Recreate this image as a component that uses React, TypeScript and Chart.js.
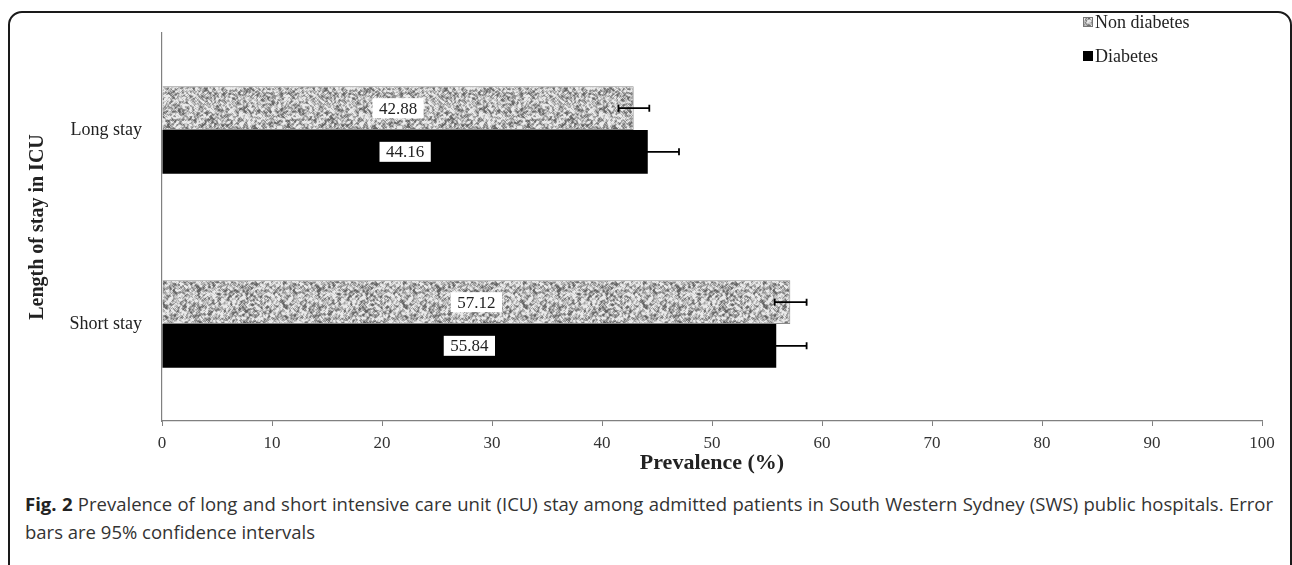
import React, { useEffect, useRef } from "react";
import { Chart, registerables } from "chart.js";

Chart.register(...registerables);

// ---- data ----
const categories = ["Long stay", "Short stay"];
const seriesNames = ["Non diabetes", "Diabetes"];
const nonDiabetes = [42.88, 57.12];
const diabetes = [44.16, 55.84];
const nonDiabetesLow = [41.5, 55.7];
const nonDiabetesHigh = [44.3, 58.6];
const diabetesLow = [41.4, 53.1];
const diabetesHigh = [47.0, 58.6];
const xMin = 0;
const xMax = 100;
const xStep = 10;
const xTitle = "Prevalence (%)";
const yTitle = "Length of stay in ICU";

const SERIF = "'Liberation Serif', 'Times New Roman', serif";

function makeNoisePattern(): CanvasPattern | string {
  const size = 120;
  const c = document.createElement("canvas");
  c.width = size;
  c.height = size;
  const g = c.getContext("2d");
  if (!g) return "#a8a8a8";
  let seed = 987654321;
  const rnd = () => {
    seed = (Math.imul(seed, 1103515245) + 12345) >>> 0;
    return (seed >>> 8) / 16777216;
  };
  const raw = new Float32Array(size * size);
  for (let i = 0; i < raw.length; i++) raw[i] = rnd();
  const img = g.createImageData(size, size);
  for (let y = 0; y < size; y++) {
    for (let x = 0; x < size; x++) {
      let s = 0;
      for (let dy = -1; dy <= 1; dy++) {
        for (let dx = -1; dx <= 1; dx++) {
          const xx = (x + dx + size) % size;
          const yy = (y + dy + size) % size;
          s += raw[yy * size + xx];
        }
      }
      const v = 0.75 * (s / 9) + 0.25 * raw[y * size + x];
      let gray = 184 + (v - 0.5) * 360;
      gray = Math.max(100, Math.min(235, gray));
      const o = (y * size + x) * 4;
      img.data[o] = gray;
      img.data[o + 1] = gray;
      img.data[o + 2] = gray;
      img.data[o + 3] = 255;
    }
  }
  g.putImageData(img, 0, 0);
  const main = document.createElement("canvas").getContext("2d");
  const p = main ? main.createPattern(c, "repeat") : null;
  return p || "#a8a8a8";
}

export default function App() {
  const canvasRef = useRef<HTMLCanvasElement | null>(null);

  useEffect(() => {
    const canvas = canvasRef.current;
    if (!canvas) return;
    const pattern = makeNoisePattern();
    const lows = [nonDiabetesLow, diabetesLow];
    const highs = [nonDiabetesHigh, diabetesHigh];

    const errorBars = {
      id: "errorBars",
      afterDatasetsDraw(chart: any) {
        const ctx = chart.ctx;
        const xs = chart.scales.x;
        ctx.save();
        ctx.strokeStyle = "#000";
        ctx.lineWidth = 1.8;
        chart.data.datasets.forEach((_ds: any, di: number) => {
          const meta = chart.getDatasetMeta(di);
          meta.data.forEach((bar: any, i: number) => {
            const y = bar.y;
            const x1 = xs.getPixelForValue(lows[di][i]);
            const x2 = xs.getPixelForValue(highs[di][i]);
            ctx.beginPath();
            ctx.moveTo(x1, y);
            ctx.lineTo(x2, y);
            ctx.moveTo(x1, y - 3.5);
            ctx.lineTo(x1, y + 3.5);
            ctx.moveTo(x2, y - 3.5);
            ctx.lineTo(x2, y + 3.5);
            ctx.stroke();
          });
        });
        ctx.restore();
      },
    };

    const dataLabels = {
      id: "dataLabels",
      afterDatasetsDraw(chart: any) {
        const ctx = chart.ctx;
        ctx.save();
        ctx.font = `17px ${SERIF}`;
        ctx.textAlign = "center";
        ctx.textBaseline = "middle";
        chart.data.datasets.forEach((ds: any, di: number) => {
          const meta = chart.getDatasetMeta(di);
          meta.data.forEach((bar: any, i: number) => {
            const text = ds.data[i].toFixed(2);
            const cx = (bar.base + bar.x) / 2;
            const cy = bar.y;
            const w = ctx.measureText(text).width + 13;
            const h = 20;
            ctx.fillStyle = "#ffffff";
            ctx.fillRect(cx - w / 2, cy - h / 2, w, h);
            ctx.fillStyle = "#222";
            ctx.fillText(text, cx, cy + 1);
          });
        });
        ctx.restore();
      },
    };

    const legendPlugin = {
      id: "customLegend",
      afterDraw(chart: any) {
        const ctx = chart.ctx;
        ctx.save();
        const x0 = 1083;
        const ys = [22, 56];
        ctx.font = `18px ${SERIF}`;
        ctx.textAlign = "left";
        ctx.textBaseline = "middle";
        chart.data.datasets.forEach((ds: any, di: number) => {
          const y = ys[di];
          const s = 10;
          ctx.fillStyle = ds.backgroundColor;
          ctx.fillRect(x0, y - s / 2, s, s);
          ctx.strokeStyle = di === 0 ? "#777" : "#000";
          ctx.lineWidth = 1;
          ctx.strokeRect(x0 + 0.5, y - s / 2 + 0.5, s - 1, s - 1);
          ctx.fillStyle = "#222";
          ctx.fillText(ds.label, x0 + s + 2, y + 1);
        });
        ctx.restore();
      },
    };

    const chart = new Chart(canvas, {
      type: "bar",
      data: {
        labels: categories,
        datasets: [
          {
            label: seriesNames[0],
            data: nonDiabetes,
            backgroundColor: pattern as any,
            borderColor: "#8a8a8a",
            borderWidth: 1,
            categoryPercentage: 0.45,
            barPercentage: 1.0,
          },
          {
            label: seriesNames[1],
            data: diabetes,
            backgroundColor: "#000000",
            borderColor: "#000000",
            borderWidth: 0,
            categoryPercentage: 0.45,
            barPercentage: 1.0,
          },
        ],
      },
      options: {
        indexAxis: "y",
        animation: false,
        responsive: false,
        maintainAspectRatio: false,
        layout: { padding: { left: 0, right: 30, top: 33, bottom: 0 } },
        plugins: {
          legend: { display: false },
          tooltip: { enabled: false },
          title: { display: false },
        },
        scales: {
          x: {
            type: "linear",
            min: xMin,
            max: xMax,
            ticks: {
              stepSize: xStep,
              color: "#333",
              padding: 7,
              font: { family: SERIF, size: 17 },
            },
            grid: {
              display: true,
              drawOnChartArea: false,
              drawTicks: true,
              tickLength: 5,
              color: "#808080",
            },
            border: { display: true, color: "#808080", width: 1.2 },
            title: {
              display: true,
              text: xTitle,
              color: "#222",
              font: { family: SERIF, size: 22, weight: "bold" },
              padding: { top: 0, bottom: 13 },
            },
            afterFit(scale: any) {
              scale.height = 69;
            },
          },
          y: {
            type: "category",
            ticks: {
              color: "#222",
              padding: 12,
              font: { family: SERIF, size: 18 },
            },
            grid: { display: false },
            border: { display: true, color: "#808080", width: 1.2 },
            title: {
              display: true,
              text: yTitle,
              color: "#222",
              font: { family: SERIF, size: 20, weight: "bold" },
              padding: { top: 26, bottom: 0 },
            },
            afterFit(scale: any) {
              scale.width = 162;
            },
          },
        },
      },
      plugins: [errorBars, dataLabels, legendPlugin],
    });

    return () => {
      chart.destroy();
    };
  }, []);

  return (
    <div
      style={{
        position: "absolute",
        left: 0,
        top: 0,
        width: 1292,
        height: 565,
        overflow: "hidden",
        background: "#fff",
      }}
    >
      <div
        style={{
          position: "absolute",
          left: 8,
          top: 11,
          width: 1284,
          height: 620,
          boxSizing: "border-box",
          border: "2px solid #1a1a1a",
          borderRadius: 14,
        }}
      />
      <canvas
        ref={canvasRef}
        width={1292}
        height={490}
        style={{ position: "absolute", left: 0, top: 0, width: 1292, height: 490 }}
      />
      <div
        style={{
          position: "absolute",
          left: 25,
          top: 490,
          width: 1248,
          fontFamily: "'Open Sans', 'Noto Sans', sans-serif",
          fontSize: 18.5,
          lineHeight: "28px",
          color: "#333",
        }}
      >
        <div style={{ textAlign: "justify", textAlignLast: "justify" as any }}>
          <b style={{ color: "#222" }}>Fig. 2</b> Prevalence of long and short intensive care unit (ICU) stay among
          admitted patients in South Western Sydney (SWS) public hospitals. Error
        </div>
        <div>bars are 95% confidence intervals</div>
      </div>
    </div>
  );
}
